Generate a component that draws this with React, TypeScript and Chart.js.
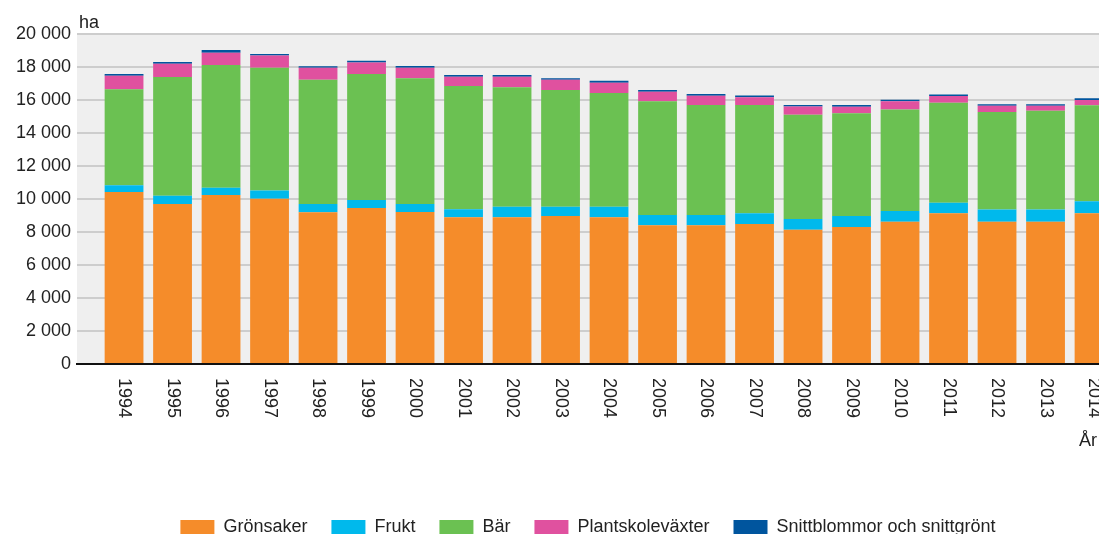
import React, { useEffect, useRef } from "react";
import { Chart, registerables } from "chart.js";

Chart.register(...registerables);

const years = [1994, 1995, 1996, 1997, 1998, 1999, 2000, 2001, 2002, 2003, 2004, 2005, 2006, 2007, 2008, 2009, 2010, 2011, 2012, 2013, 2014];
const gronsaker = [10420, 9700, 10240, 10020, 9190, 9450, 9210, 8890, 8890, 8970, 8890, 8410, 8410, 8490, 8140, 8300, 8620, 9130, 8620, 8620, 9130];
const frukt = [410, 500, 440, 490, 500, 490, 490, 490, 640, 560, 640, 620, 620, 650, 650, 670, 650, 640, 750, 750, 730];
const bar = [5820, 7190, 7440, 7450, 7530, 7640, 7620, 7470, 7240, 7070, 6890, 6890, 6670, 6550, 6320, 6220, 6160, 6060, 5900, 5980, 5820];
const plantskole = [820, 810, 750, 730, 730, 700, 640, 560, 640, 620, 620, 580, 560, 480, 490, 400, 490, 410, 380, 300, 320];
const snitt = [100, 100, 160, 100, 100, 100, 100, 100, 100, 100, 120, 100, 100, 100, 100, 100, 100, 100, 100, 100, 100];

const seriesNames = ["Grönsaker", "Frukt", "Bär", "Plantskoleväxter", "Snittblommor och snittgrönt"];
const seriesColors = ["#F58C2A", "#00B9EC", "#6BC152", "#E0519F", "#00559E"];
const yTicks = [0, 2000, 4000, 6000, 8000, 10000, 12000, 14000, 16000, 18000, 20000];
const yUnit = "ha";
const xTitle = "År";

const X_MIN = 1993.03;
const X_MAX = 2015.69;

const FONT = "'Liberation Sans', Arial, sans-serif";
const TEXT = "#222222";

function fmt(v: number): string {
  return String(v).replace(/\B(?=(\d{3})+(?!\d))/g, " ");
}

const decorPlugin = {
  id: "decor",
  beforeDraw(chart: any) {
    const { ctx, chartArea } = chart;
    ctx.save();
    ctx.fillStyle = "#efefef";
    ctx.fillRect(chartArea.left, chartArea.top, chartArea.right - chartArea.left, chartArea.bottom - chartArea.top);
    ctx.restore();
  },
  afterDraw(chart: any) {
    const { ctx, chartArea } = chart;
    const xs = chart.scales.x;
    ctx.save();
    ctx.fillStyle = TEXT;
    ctx.font = `18px ${FONT}`;
    years.forEach((yr) => {
      const px = xs.getPixelForValue(yr);
      ctx.save();
      ctx.translate(px, chartArea.bottom + 14);
      ctx.rotate(Math.PI / 2);
      ctx.textAlign = "left";
      ctx.textBaseline = "middle";
      ctx.fillText(String(yr), 0, 0);
      ctx.restore();
    });
    ctx.textAlign = "left";
    ctx.textBaseline = "alphabetic";
    ctx.fillText(yUnit, chartArea.left + 2, chartArea.top - 6);
    ctx.textAlign = "right";
    ctx.fillText(xTitle, 1097, 446);
    ctx.restore();
  },
};

export default function App() {
  const ref = useRef<HTMLCanvasElement | null>(null);
  useEffect(() => {
    if (!ref.current) return;
    const data = [gronsaker, frukt, bar, plantskole, snitt];
    const chart = new Chart(ref.current, {
      type: "bar",
      data: {
        labels: years,
        datasets: data.map((d, i) => ({
          label: seriesNames[i],
          data: d,
          backgroundColor: seriesColors[i],
          borderWidth: 0,
          categoryPercentage: 0.8,
          barPercentage: 1,
        })),
      },
      options: {
        responsive: false,
        animation: false,
        devicePixelRatio: 1,
        layout: { padding: { top: 34, left: 0, right: 0, bottom: 0 } },
        plugins: {
          legend: {
            position: "bottom",
            labels: {
              boxWidth: 34,
              boxHeight: 14,
              padding: 24,
              color: TEXT,
              font: { size: 18, family: FONT },
            },
          },
          tooltip: { enabled: false },
        },
        scales: {
          x: {
            type: "linear",
            stacked: true,
            offset: false,
            bounds: "data",
            min: X_MIN,
            max: X_MAX,
            grid: { display: false, drawTicks: false, offset: false },
            border: { display: true, color: "#111111", width: 2 },
            ticks: { display: false },
            afterDataLimits: (s: any) => {
              s.min = X_MIN;
              s.max = X_MAX;
            },
            afterBuildTicks: (s: any) => {
              s.min = X_MIN;
              s.max = X_MAX;
            },
            afterFit: (s: any) => {
              s.height = 130;
            },
          },
          y: {
            stacked: true,
            min: 0,
            max: 20000,
            afterBuildTicks: (s: any) => {
              s.ticks = yTicks.map((v) => ({ value: v }));
            },
            ticks: {
              padding: 6,
              color: TEXT,
              font: { size: 18, family: FONT },
              callback: (v: any) => fmt(Number(v)),
            },
            grid: { color: "#cdcdcd", lineWidth: 2, drawTicks: false },
            border: { display: false },
            afterFit: (s: any) => {
              s.width = 77;
            },
          },
        },
      } as any,
      plugins: [decorPlugin],
    });
    return () => chart.destroy();
  }, []);
  return (
    <div style={{ position: "absolute", left: 0, top: 0, width: 1099, height: 534, overflow: "hidden", background: "#fff" }}>
      <canvas ref={ref} width={1176} height={546} style={{ display: "block" }} />
    </div>
  );
}
